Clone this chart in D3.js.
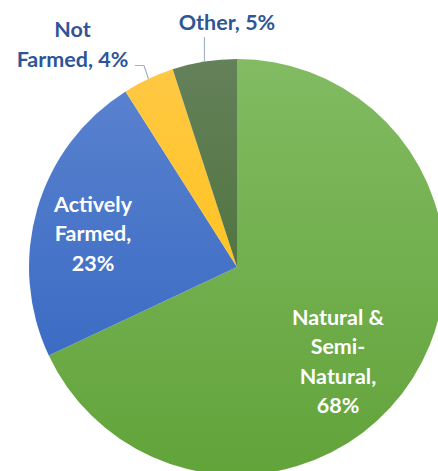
<!DOCTYPE html>
<html><head><meta charset="utf-8">
<script src="https://cdn.jsdelivr.net/npm/d3@7"></script>
<style>html,body{margin:0;padding:0;background:#fff;overflow:hidden}</style>
</head><body>
<svg id="c" width="438" height="471"></svg>
<script>
const categories = ["Natural & Semi-Natural", "Actively Farmed", "Not Farmed", "Other"];
const values = [68, 23, 4, 5];
const labelLines = [["Natural &", "Semi-", "Natural,", "68%"], ["Actively", "Farmed,", "23%"], ["Not", "Farmed, 4%"], ["Other, 5%"]];
const colorsTop = ["#82bb62", "#5c84d0", "#ffc845", "#64815a"];
const colorsBottom = ["#62a33a", "#2f62bf", "#ffbf00", "#3f6826"];

const svg = d3.select("#c");
const cx = 237, cy = 267, R = 208;
const defs = svg.append("defs");
categories.forEach((c, i) => {
  const g = defs.append("linearGradient").attr("id", "g" + i)
    .attr("gradientUnits", "userSpaceOnUse")
    .attr("x1", 0).attr("y1", -R).attr("x2", 0).attr("y2", R);
  g.append("stop").attr("offset", "0%").attr("stop-color", colorsTop[i]);
  g.append("stop").attr("offset", "100%").attr("stop-color", colorsBottom[i]);
});
const data = categories.map((c, i) => ({ name: c, value: values[i], idx: i }));
const pie = d3.pie().value(d => d.value).sort(null);
const arcs = pie(data);
const arc = d3.arc().innerRadius(0).outerRadius(R);
const root = svg.append("g").attr("transform", `translate(${cx},${cy})`);
root.selectAll("path").data(arcs).join("path")
  .attr("d", arc)
  .attr("fill", d => `url(#g${d.data.idx})`);

const font = "Lato, 'Open Sans', sans-serif";
const fs = 21.5;
// inside labels
const inside = [{ i: 0, x: 338, y: 325 }, { i: 1, x: 93, y: 212 }];
inside.forEach(o => {
  const t = svg.append("text").attr("text-anchor", "middle")
    .attr("font-family", font).attr("font-weight", "bold").attr("font-size", fs)
    .attr("fill", "#ffffff");
  labelLines[o.i].forEach((l, k) => t.append("tspan").attr("x", o.x).attr("y", o.y + k * 29.3).text(l));
});
// outside labels
const outside = [{ i: 2, x: 72.5, y: 37 }, { i: 3, x: 227, y: 30 }];
outside.forEach(o => {
  const t = svg.append("text").attr("text-anchor", "middle")
    .attr("font-family", font).attr("font-weight", "bold").attr("font-size", fs)
    .attr("fill", "#2f5597");
  labelLines[o.i].forEach((l, k) => t.append("tspan").attr("x", o.x).attr("y", o.y + k * 30).text(l));
});
// leader lines
const pt = (a, r) => [cx + r * Math.sin(a), cy - r * Math.cos(a)];
const nf = arcs[2], ot = arcs[3];
const nfMid = (nf.startAngle + nf.endAngle) / 2;
const p1 = pt(nfMid, R);
svg.append("polyline").attr("fill", "none").attr("stroke", "#a3b3c6").attr("stroke-width", 1.2)
  .attr("points", [[135, 65.5], [144, 65.5], p1].map(p => p.join(",")).join(" "));
const otMid = (ot.startAngle + ot.endAngle) / 2;
const p2 = pt(otMid, R);
svg.append("polyline").attr("fill", "none").attr("stroke", "#a3b3c6").attr("stroke-width", 1.2)
  .attr("points", [[p2[0], 37], p2].map(p => p.join(",")).join(" "));
</script>
</body></html>
